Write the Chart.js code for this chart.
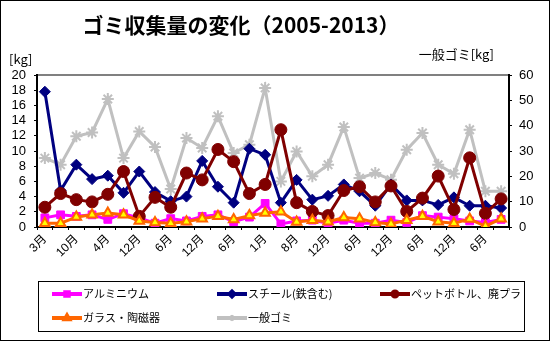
<!DOCTYPE html>
<html>
<head>
<meta charset="utf-8">
<script src="https://cdn.jsdelivr.net/npm/chart.js@4.4.1/dist/chart.umd.min.js"></script>
<style>
  html, body { margin: 0; padding: 0; background: #fff; }
  #wrap { width: 550px; height: 341px; position: relative; }
</style>
</head>
<body>
<div id="wrap"><canvas id="gomiChart" width="550" height="341"></canvas></div>
<script>
// 収集月（2005年3月〜2013年）
const months = ['3月', '7月', '10月', '1月', '4月', '8月', '12月', '3月', '6月', '9月',
                '12月', '3月', '6月', '9月', '1月', '4月', '8月', '10月', '12月', '3月',
                '6月', '9月', '12月', '3月', '6月', '9月', '12月', '3月', '6月', '9月'];

// 資源ゴミ [kg]（左軸）
const aluminum = [1.2, 1.6, 1.4, 1.6, 1.0, 1.75, 1.2, 0.5, 1.1, 0.8,
                  1.4, 1.6, 0.7, 1.3, 3.1, 0.4, 0.8, 0.9, 0.5, 0.9,
                  0.5, 0.5, 0.9, 0.6, 1.5, 1.3, 1.1, 0.8, 0.6, 1.0];
const steel = [17.8, 4.8, 8.2, 6.3, 6.75, 4.5, 7.3, 4.6, 3.4, 4.0,
               8.7, 5.3, 3.2, 10.3, 9.5, 3.2, 6.2, 3.6, 4.1, 5.6,
               4.7, 2.8, 5.6, 3.5, 3.5, 2.9, 3.9, 2.8, 2.8, 2.5];
const petPlastic = [2.6, 4.4, 3.6, 3.3, 4.3, 7.3, 1.4, 3.9, 2.6, 7.1,
                    6.2, 10.2, 8.6, 4.4, 5.6, 12.8, 3.2, 2.05, 1.5, 4.8,
                    5.3, 3.3, 5.4, 2.05, 3.8, 6.7, 2.3, 9.1, 1.8, 3.7];
const glass = [0.5, 0.5, 1.3, 1.6, 1.85, 1.6, 0.8, 0.6, 0.5, 0.7,
               1.1, 1.4, 1.0, 1.5, 1.85, 2.0, 0.65, 0.9, 0.7, 1.25,
               1.1, 0.6, 0.4, 0.9, 1.4, 0.7, 0.5, 1.05, 0.1, 1.1];

// 一般ゴミ [kg]（右軸）
const general = [27.2, 24.6, 35.8, 37.3, 50.5, 27.2, 37.7, 31.6, 15, 35.1,
                 31.2, 43.7, 29.2, 32.5, 54.9, 18, 29.8, 20, 24.6, 39.5,
                 19.3, 21.3, 18.7, 30.5, 37.1, 24.6, 21, 38.4, 14.1, 14.1];

const leftTicks = { min: 0, max: 20, step: 2 };
const rightTicks = { min: 0, max: 60, step: 10 };

const JP_FONT = '"Noto Sans CJK JP", sans-serif';
const NUM_FONT = '"Liberation Sans", "Noto Sans CJK JP", sans-serif';

// 凡例の並び（3列×2行）
const legendCols = [52, 217, 380];
const legendRows = [294, 318];

// 枠・タイトル・軸見出し・凡例を描く
const decorPlugin = {
    id: 'decor',
    beforeDraw(chart) {
        const ctx = chart.ctx;
        const area = chart.chartArea;
        ctx.save();
        ctx.fillStyle = '#fff';
        ctx.fillRect(0, 0, chart.width, chart.height);
        // プロットエリア上辺（灰色）
        ctx.strokeStyle = '#808080';
        ctx.lineWidth = 2;
        ctx.beginPath();
        ctx.moveTo(area.left, area.top);
        ctx.lineTo(area.right, area.top);
        ctx.stroke();
        ctx.restore();
    },
    afterDraw(chart) {
        const ctx = chart.ctx;
        ctx.save();

        // 外枠
        ctx.strokeStyle = '#000';
        ctx.lineWidth = 1;
        ctx.strokeRect(0.5, 0.5, chart.width - 1, chart.height - 1);

        // タイトル
        ctx.fillStyle = '#000';
        ctx.font = 'bold 21px ' + JP_FONT;
        ctx.textAlign = 'center';
        ctx.textBaseline = 'middle';
        ctx.fillText('ゴミ収集量の変化（2005-2013）', 241, 25);

        // 軸見出し
        ctx.font = '13px ' + JP_FONT;
        ctx.textAlign = 'left';
        ctx.fillText('[kg]', 9, 59);
        ctx.textAlign = 'right';
        ctx.fillText('一般ゴミ[kg]', 494, 54);

        // 凡例
        ctx.strokeStyle = '#000';
        ctx.lineWidth = 1;
        ctx.strokeRect(38.5, 281.5, 486, 50);
        chart.data.datasets.forEach((ds, i) => {
            const x = legendCols[i % 3];
            const y = legendRows[Math.floor(i / 3)];
            ctx.strokeStyle = ds.borderColor;
            ctx.lineWidth = 4;
            ctx.beginPath();
            ctx.moveTo(x, y);
            ctx.lineTo(x + 30, y);
            ctx.stroke();
            ctx.fillStyle = ds.pointBackgroundColor;
            ctx.strokeStyle = ds.pointBorderColor;
            Chart.helpers.drawPoint(ctx, {
                pointStyle: ds.pointStyle,
                radius: 2.5,
                rotation: 0,
                borderWidth: 1
            }, x + 15, y);
            ctx.fillStyle = '#000';
            ctx.font = '11px ' + JP_FONT;
            ctx.textAlign = 'left';
            ctx.textBaseline = 'middle';
            ctx.fillText(ds.label, x + 31, y);
        });
        ctx.restore();
    }
};

function seriesLine(label, data, color, pointStyle, extra) {
    return Object.assign({
        label: label,
        data: data,
        yAxisID: 'y',
        borderColor: color,
        backgroundColor: color,
        pointBackgroundColor: color,
        pointBorderColor: color,
        borderWidth: 3,
        pointStyle: pointStyle,
        pointRadius: 5,
        pointBorderWidth: 1,
        tension: 0,
        fill: false
    }, extra || {});
}

const ctx = document.getElementById('gomiChart');
new Chart(ctx, {
    type: 'line',
    data: {
        labels: months,
        datasets: [
            seriesLine('アルミニウム', aluminum, '#FF00FF', 'rect', { order: 4, pointRadius: 5.5 }),
            seriesLine('スチール(鉄含む)', steel, '#000080', 'rectRot', { order: 3, pointRadius: 5.5 }),
            seriesLine('ペットボトル、廃プラ', petPlastic, '#800000', 'circle', { order: 2, pointRadius: 6 }),
            seriesLine('ガラス・陶磁器', glass, '#FF6600', 'triangle', {
                order: 1, pointBackgroundColor: '#FFFF00', pointBorderWidth: 2, pointRadius: 5.5
            }),
            seriesLine('一般ゴミ', general, '#C0C0C0', 'star', {
                order: 5, yAxisID: 'y2', pointBorderWidth: 2, pointRadius: 6
            })
        ]
    },
    options: {
        responsive: false,
        animation: false,
        layout: { padding: { top: 75, left: 0, right: 0, bottom: 0 } },
        plugins: {
            legend: { display: false },
            title: { display: false },
            tooltip: { enabled: false }
        },
        scales: {
            x: {
                offset: true,
                border: { color: '#000', width: 2 },
                grid: { display: true, drawOnChartArea: false, offset: true, color: '#000', tickLength: 3 },
                ticks: {
                    autoSkip: false,
                    maxRotation: 45,
                    minRotation: 45,
                    padding: 2,
                    color: '#000',
                    font: { family: NUM_FONT, size: 12 },
                    callback: function (value, index) {
                        return index % 2 === 0 ? months[index] : '';
                    }
                },
                afterFit: (scale) => { scale.height = 341 - 227; }
            },
            y: {
                position: 'left',
                min: leftTicks.min,
                max: leftTicks.max,
                border: { color: '#000', width: 2 },
                grid: { display: true, drawOnChartArea: false, color: '#000', tickLength: 3 },
                ticks: {
                    stepSize: leftTicks.step,
                    autoSkip: false,
                    padding: 8,
                    color: '#000',
                    font: { family: NUM_FONT, size: 13 }
                },
                afterFit: (scale) => { scale.width = 37; }
            },
            y2: {
                position: 'right',
                min: rightTicks.min,
                max: rightTicks.max,
                border: { color: '#000', width: 2 },
                grid: { display: true, drawOnChartArea: false, color: '#000', tickLength: 3 },
                ticks: {
                    stepSize: rightTicks.step,
                    autoSkip: false,
                    padding: 7,
                    color: '#000',
                    font: { family: NUM_FONT, size: 13 }
                },
                afterFit: (scale) => { scale.width = 550 - 509; }
            }
        }
    },
    plugins: [decorPlugin]
});
</script>
</body>
</html>
